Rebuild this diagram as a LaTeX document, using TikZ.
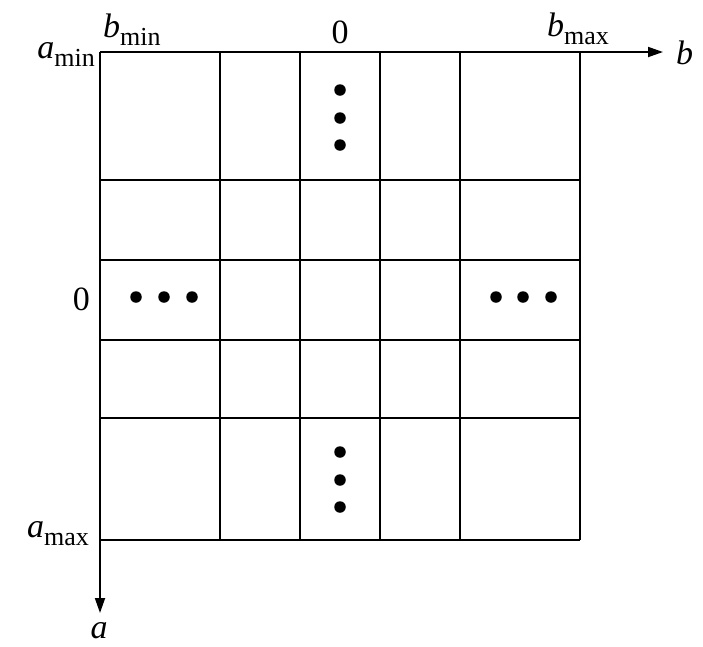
\documentclass[tikz,border=0pt]{standalone}
\usepackage{fontspec}
\setmainfont{Liberation Serif}
\usepackage{tikz}
\usetikzlibrary{arrows.meta, positioning}

% Variable mit tiefgestelltem Index
\newcommand{\idx}[2]{\textit{#1}\raisebox{-8pt}{\fontsize{26}{28}\selectfont #2}}

\begin{document}
\begin{tikzpicture}[
		x=1pt, y=-1pt,
		>={Stealth[inset=0pt, length=15pt, width=10pt]}, % Pfeilspitzen der Achsen
		every node/.style={font=\fontsize{34}{38}\selectfont, inner sep=0pt},
		gitter/.style={line width=1.4pt},
		achse/.style={line width=1.8pt, ->},
		punkt/.style={circle, fill, minimum size=11.5pt, inner sep=0pt, font={}}
		]
		
		\useasboundingbox (0,0) rectangle (703,646);
		
		% Gitterlinien
		\foreach \x in {220,300,380,460,580}
		\draw[gitter] (\x,52) -- (\x,540);
		\foreach \y in {180,260,340,418,540}
		\draw[gitter] (100,\y) -- (580,\y);
		
		% Achsen a und b
		\coordinate (ursprung) at (100,52);
		\coordinate (bende) at (663,52);
		\coordinate (aende) at (100,613);
		\draw[achse] (ursprung) -- (bende);
		\draw[achse] (ursprung) -- (aende);
		
		% Beschriftungen
		\node[anchor=base west] (b) at (676,64) {\textit{b}};
		\node[anchor=base] (a) at (99,638) {\textit{a}};
		\node[anchor=base east] (amin) at (95,58) {\idx{a}{min}};
		\node[anchor=base east] (amax) at (89,537) {\idx{a}{max}};
		\node[anchor=base west] (bmin) at (103,37) {\idx{b}{min}};
		\node[anchor=base] (bnull) at (340,43) {0};
		\node[anchor=base west] (bmax) at (547,36) {\idx{b}{max}};
		\node[anchor=base east] (anull) at (90,310) {0};
		
		% Punkte
		\foreach \y [count=\i] in {90,118,145}
		\node[punkt] (po\i) at (340,\y) {};
		\foreach \y [count=\i] in {452,480,507}
		\node[punkt] (pu\i) at (340,\y) {};
		\foreach \x [count=\i] in {136,164,192}
		\node[punkt] (pl\i) at (\x,297) {};
		\foreach \x [count=\i] in {496,523,551}
		\node[punkt] (pr\i) at (\x,297) {};
		
	\end{tikzpicture}
\end{document}
